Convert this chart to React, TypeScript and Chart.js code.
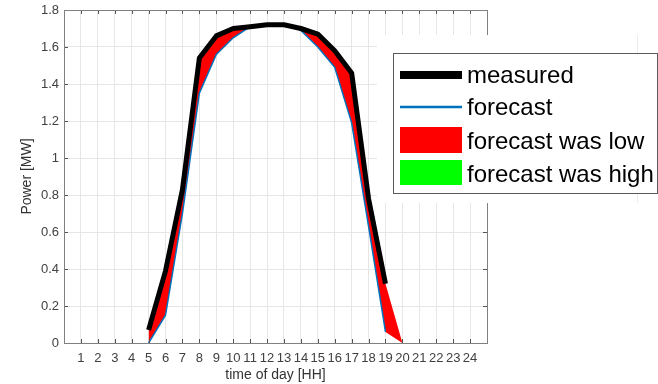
import React, { useEffect, useRef } from 'react';
import { Chart, registerables } from 'chart.js';

Chart.register(...registerables);

// ---- data ----
const hours = [5, 6, 7, 8, 9, 10, 11, 12, 13, 14, 15, 16, 17, 18, 19];
const measured = [0.07, 0.39, 0.83, 1.54, 1.66, 1.7, 1.71, 1.72, 1.72, 1.7, 1.67, 1.58, 1.46, 0.78, 0.32];
const forecast = [0.0, 0.15, 0.7, 1.35, 1.56, 1.65, 1.71, 1.72, 1.72, 1.69, 1.6, 1.49, 1.19, 0.63, 0.06];
const fillCloseHour = 20;
const fillCloseValue = 0;
const xTickValues = [1, 2, 3, 4, 5, 6, 7, 8, 9, 10, 11, 12, 13, 14, 15, 16, 17, 18, 19, 20, 21, 22, 23, 24];
const yTickValues = [0, 0.2, 0.4, 0.6, 0.8, 1, 1.2, 1.4, 1.6, 1.8];
const xTitle = 'time of day [HH]';
const yTitle = 'Power [MW]';
const legendLabels = ['measured', 'forecast', 'forecast was low', 'forecast was high'];

const FONT = "'Liberation Sans', Arial, Helvetica, sans-serif";
const COL_MEASURED = '#000000';
const COL_FORECAST = '#0072BD';
const COL_LOW = '#ff0000';
const COL_HIGH = '#00ff00';

const framePlugin = {
  id: 'matlabFrame',
  afterDraw(chart: any) {
    const { ctx, chartArea: a, scales } = chart;
    const xs = scales.x;
    const ys = scales.y;
    ctx.save();
    // inward tick marks
    ctx.strokeStyle = '#555555';
    ctx.lineWidth = 1;
    ctx.beginPath();
    for (const v of xTickValues) {
      const px = Math.round(xs.getPixelForValue(v)) + 0.5;
      ctx.moveTo(px, a.bottom);
      ctx.lineTo(px, a.bottom - 4);
      ctx.moveTo(px, a.top);
      ctx.lineTo(px, a.top + 4);
    }
    for (const v of yTickValues) {
      const py = Math.round(ys.getPixelForValue(v)) + 0.5;
      ctx.moveTo(a.left, py);
      ctx.lineTo(a.left + 4, py);
      ctx.moveTo(a.right, py);
      ctx.lineTo(a.right - 4, py);
    }
    ctx.stroke();
    // box
    ctx.strokeStyle = '#808080';
    ctx.strokeRect(a.left + 0.5, a.top + 0.5, a.right - a.left, a.bottom - a.top);

    // legend backing
    ctx.fillStyle = '#ffffff';
    ctx.fillRect(377, 35, 260, 168);
    ctx.strokeStyle = '#ececec';
    ctx.beginPath();
    ctx.moveTo(637.5, 35);
    ctx.lineTo(637.5, 203);
    ctx.stroke();

    // legend box
    ctx.fillStyle = '#ffffff';
    ctx.fillRect(393, 53, 265, 140);
    ctx.strokeStyle = '#5a5a5a';
    ctx.lineWidth = 1;
    ctx.strokeRect(393.5, 53.5, 264, 140);

    const sx0 = 400;
    const sx1 = 462;
    const baselines = [83, 115, 149, 182];
    // measured swatch
    ctx.strokeStyle = COL_MEASURED;
    ctx.lineWidth = 8;
    ctx.beginPath();
    ctx.moveTo(sx0, 75);
    ctx.lineTo(sx1, 75);
    ctx.stroke();
    // forecast swatch
    ctx.strokeStyle = COL_FORECAST;
    ctx.lineWidth = 2.5;
    ctx.beginPath();
    ctx.moveTo(sx0, 107);
    ctx.lineTo(sx1, 107);
    ctx.stroke();
    // fill swatches
    ctx.fillStyle = COL_LOW;
    ctx.fillRect(sx0, 127, sx1 - sx0, 26);
    ctx.fillStyle = COL_HIGH;
    ctx.fillRect(sx0, 160, sx1 - sx0, 25);

    ctx.fillStyle = '#000000';
    ctx.font = `24px ${FONT}`;
    ctx.textAlign = 'left';
    ctx.textBaseline = 'alphabetic';
    legendLabels.forEach((t, i) => ctx.fillText(t, 467, baselines[i]));
    ctx.restore();
  },
};

export default function App() {
  const ref = useRef<HTMLCanvasElement | null>(null);

  useEffect(() => {
    document.body.style.margin = '0';
    const canvas = ref.current;
    if (!canvas) return;
    const pts = (vals: number[]) => hours.map((h, i) => ({ x: h, y: vals[i] }));
    const chart = new Chart(canvas, {
      type: 'line',
      data: {
        datasets: [
          {
            label: legendLabels[0],
            data: pts(measured),
            borderColor: COL_MEASURED,
            borderWidth: 5,
            borderJoinStyle: 'round',
            pointRadius: 0,
            fill: false,
            order: 0,
          },
          {
            label: legendLabels[1],
            data: pts(forecast),
            borderColor: COL_FORECAST,
            borderWidth: 1.5,
            pointRadius: 0,
            fill: false,
            order: 1,
          },
          {
            label: legendLabels[2],
            data: [...pts(measured), { x: fillCloseHour, y: fillCloseValue }],
            borderWidth: 0,
            borderColor: 'rgba(0,0,0,0)',
            backgroundColor: COL_LOW,
            pointRadius: 0,
            fill: '+1',
            order: 2,
          },
          {
            label: 'lower bound',
            data: [...pts(forecast), { x: fillCloseHour, y: fillCloseValue }],
            borderWidth: 0,
            borderColor: 'rgba(0,0,0,0)',
            pointRadius: 0,
            fill: false,
            order: 3,
          },
        ],
      },
      options: {
        animation: false,
        responsive: false,
        devicePixelRatio: 1,
        layout: { padding: { top: 10, right: 171, left: 0, bottom: 0 } },
        plugins: {
          legend: { display: false },
          tooltip: { enabled: false },
        },
        events: [],
        scales: {
          x: {
            type: 'linear',
            min: 0,
            max: 25,
            afterBuildTicks: (s: any) => {
              s.ticks = xTickValues.map((v) => ({ value: v }));
            },
            afterFit: (s: any) => {
              s.height = 41;
              s.paddingLeft = 0;
              s.paddingRight = 0;
            },
            grid: { color: '#e6e6e6', drawTicks: false, lineWidth: 1 },
            border: { display: false },
            ticks: {
              autoSkip: false,
              maxRotation: 0,
              padding: 8,
              color: '#404040',
              font: { family: FONT, size: 13 },
              callback: (v: any) => String(v),
            },
            title: {
              display: true,
              text: xTitle,
              color: '#333333',
              font: { family: FONT, size: 14 },
              padding: { top: 0, bottom: 0 },
            },
          },
          y: {
            type: 'linear',
            min: 0,
            max: 1.8,
            afterBuildTicks: (s: any) => {
              s.ticks = yTickValues.map((v) => ({ value: v }));
            },
            afterFit: (s: any) => {
              s.width = 64;
              s.paddingTop = 0;
              s.paddingBottom = 0;
            },
            grid: { color: '#e6e6e6', drawTicks: false, lineWidth: 1 },
            border: { display: false },
            ticks: {
              autoSkip: false,
              padding: 5,
              color: '#404040',
              font: { family: FONT, size: 13 },
              callback: (v: any) => String(v),
            },
            title: {
              display: true,
              text: yTitle,
              color: '#333333',
              font: { family: FONT, size: 14 },
              padding: { top: 19, bottom: 0 },
            },
          },
        },
      },
      plugins: [framePlugin],
    } as any);
    return () => chart.destroy();
  }, []);

  return (
    <div style={{ position: 'absolute', left: 0, top: 0, width: 658, height: 384, background: '#fff' }}>
      <canvas ref={ref} width={658} height={384} style={{ display: 'block' }} />
    </div>
  );
}
